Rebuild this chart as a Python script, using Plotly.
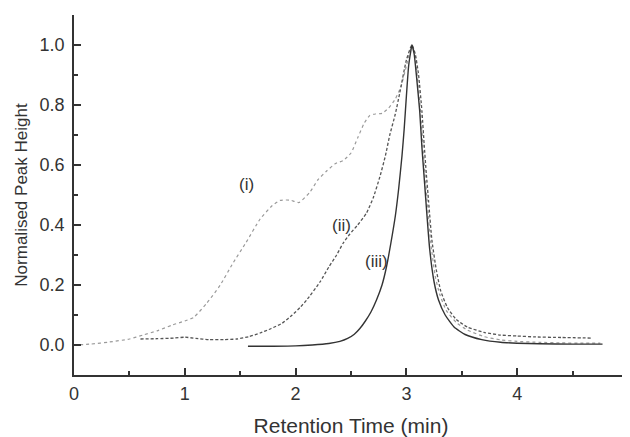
import plotly.graph_objects as go

# Curve (i)
x_i = [0, 0.15, 0.32, 0.5, 0.62, 0.75, 0.89, 1.0, 1.08, 1.2, 1.32, 1.43, 1.55, 1.68, 1.79, 1.86,
       1.95, 2.03, 2.13, 2.2, 2.28, 2.36, 2.43, 2.5, 2.56, 2.62, 2.67, 2.72, 2.78, 2.84, 2.9, 2.95,
       3.0, 3.05, 3.08, 3.10, 3.13, 3.15, 3.17, 3.19, 3.22, 3.26, 3.3, 3.36, 3.45, 3.55, 3.7, 3.85,
       4.0, 4.2, 4.4, 4.6, 4.75]
y_i = [0.0, 0.003, 0.01, 0.02, 0.033, 0.047, 0.067, 0.08, 0.092, 0.14, 0.2, 0.27, 0.34, 0.42, 0.465, 0.482,
       0.483, 0.475, 0.51, 0.55, 0.58, 0.605, 0.615, 0.64, 0.69, 0.74, 0.765, 0.77, 0.772, 0.79, 0.82, 0.86,
       0.93, 1.0, 0.96, 0.89, 0.77, 0.66, 0.56, 0.47, 0.34, 0.23, 0.17, 0.115, 0.075, 0.05, 0.028, 0.017,
       0.012, 0.009, 0.007, 0.006, 0.006]

# Curve (ii)
x_ii = [0.6, 0.75, 0.9, 1.0, 1.1, 1.22, 1.35, 1.47, 1.58, 1.68, 1.78, 1.88, 1.97, 2.04, 2.1, 2.22,
        2.3, 2.37, 2.43, 2.49, 2.56, 2.64, 2.7, 2.76, 2.81, 2.85, 2.9, 2.94, 3.0, 3.05,
        3.08, 3.11, 3.14, 3.16, 3.18, 3.2, 3.23, 3.27, 3.31, 3.37, 3.45, 3.55, 3.7, 3.85, 4.0,
        4.15, 4.4, 4.68]
y_ii = [0.02, 0.021, 0.023, 0.026, 0.022, 0.018, 0.018, 0.02, 0.028, 0.04, 0.055, 0.073, 0.1, 0.125, 0.15, 0.21,
        0.26, 0.3, 0.34, 0.37, 0.40, 0.44, 0.49, 0.56, 0.63, 0.70, 0.77, 0.84, 0.95, 1.0,
        0.97, 0.9, 0.78, 0.67, 0.57, 0.48, 0.35, 0.25, 0.18, 0.125, 0.085, 0.06, 0.042, 0.033, 0.03,
        0.027, 0.025, 0.023]

# Curve (iii)
x_iii = [1.57, 1.8, 2.0, 2.15, 2.3, 2.4, 2.47, 2.53, 2.58, 2.63, 2.68, 2.73, 2.78, 2.82, 2.86, 2.9,
         2.93, 2.96, 2.98, 3.0, 3.02, 3.04, 3.05, 3.07, 3.09, 3.12, 3.14, 3.16, 3.18, 3.21, 3.25,
         3.29, 3.35, 3.43, 3.53, 3.68, 3.85, 4.0, 4.2, 4.5, 4.77]
y_iii = [-0.004, -0.004, -0.003, 0.0, 0.005, 0.012, 0.022, 0.036, 0.055, 0.08, 0.11, 0.15, 0.2, 0.26, 0.34, 0.43,
         0.52, 0.63, 0.72, 0.83, 0.93, 0.98, 1.0, 0.97, 0.9, 0.78, 0.66, 0.56, 0.46, 0.32, 0.21,
         0.15, 0.1, 0.06, 0.035, 0.018, 0.009, 0.006, 0.004, 0.003, 0.003]

labels = ["(i)", "(ii)", "(iii)"]
label_x = [1.56, 2.41, 2.73]
label_y = [0.535, 0.40, 0.28]

x_ticks = [0, 1, 2, 3, 4, 5]
y_ticks = [0.0, 0.2, 0.4, 0.6, 0.8, 1.0]

FONT = "Liberation Sans, Arial, sans-serif"
INK = "#333333"

fig = go.Figure()
fig.add_trace(go.Scatter(x=x_i, y=y_i, mode="lines",
                         line=dict(color="#9a9a9a", width=1.2, dash="dot", shape="spline", smoothing=0.5)))
fig.add_trace(go.Scatter(x=x_ii, y=y_ii, mode="lines",
                         line=dict(color="#555555", width=1.3, dash="3px,2px", shape="spline", smoothing=0.5)))
fig.add_trace(go.Scatter(x=x_iii, y=y_iii, mode="lines",
                         line=dict(color=INK, width=1.4, shape="spline", smoothing=0.5)))

for t, lx, ly in zip(labels, label_x, label_y):
    fig.add_annotation(x=lx, y=ly, text=t, showarrow=False,
                       font=dict(family=FONT, size=17, color=INK))

# page body has an 8px default margin, so the figure is sized to fill the rest of the window
fig.update_layout(
    width=622, height=429,
    margin=dict(l=66, r=2, t=7, b=62, autoexpand=False),
    paper_bgcolor="white", plot_bgcolor="white",
    showlegend=False,
    font=dict(family=FONT, size=18, color=INK),
)
fig.update_xaxes(
    range=[0, 5], tickvals=x_ticks, ticktext=[str(v) for v in x_ticks],
    showgrid=False, zeroline=False, showline=True, linecolor=INK, linewidth=1.5,
    ticks="inside", ticklen=7, tickwidth=1.5, tickcolor=INK,
    minor=dict(ticks="inside", dtick=0.5, ticklen=4, tickwidth=1.5, tickcolor=INK),
    tickfont=dict(size=18, color=INK), automargin=False, ticklabelstandoff=2,
    ticklabeloverflow="allow",
    title=dict(text="Retention Time (min)", font=dict(size=21, color=INK), standoff=18),
)
fig.update_yaxes(
    range=[-0.1, 1.1], tickvals=y_ticks, ticktext=["%.1f" % v for v in y_ticks],
    showgrid=False, zeroline=False, showline=True, linecolor=INK, linewidth=1.5,
    ticks="inside", ticklen=7, tickwidth=1.5, tickcolor=INK,
    minor=dict(ticks="inside", dtick=0.1, tick0=0, ticklen=4, tickwidth=1.5, tickcolor=INK),
    tickfont=dict(size=18, color=INK), automargin=False, ticklabelstandoff=4,
    title=dict(text="Normalised Peak Height", font=dict(size=17, color=INK), standoff=8),
)

fig.write_html("out.html")
